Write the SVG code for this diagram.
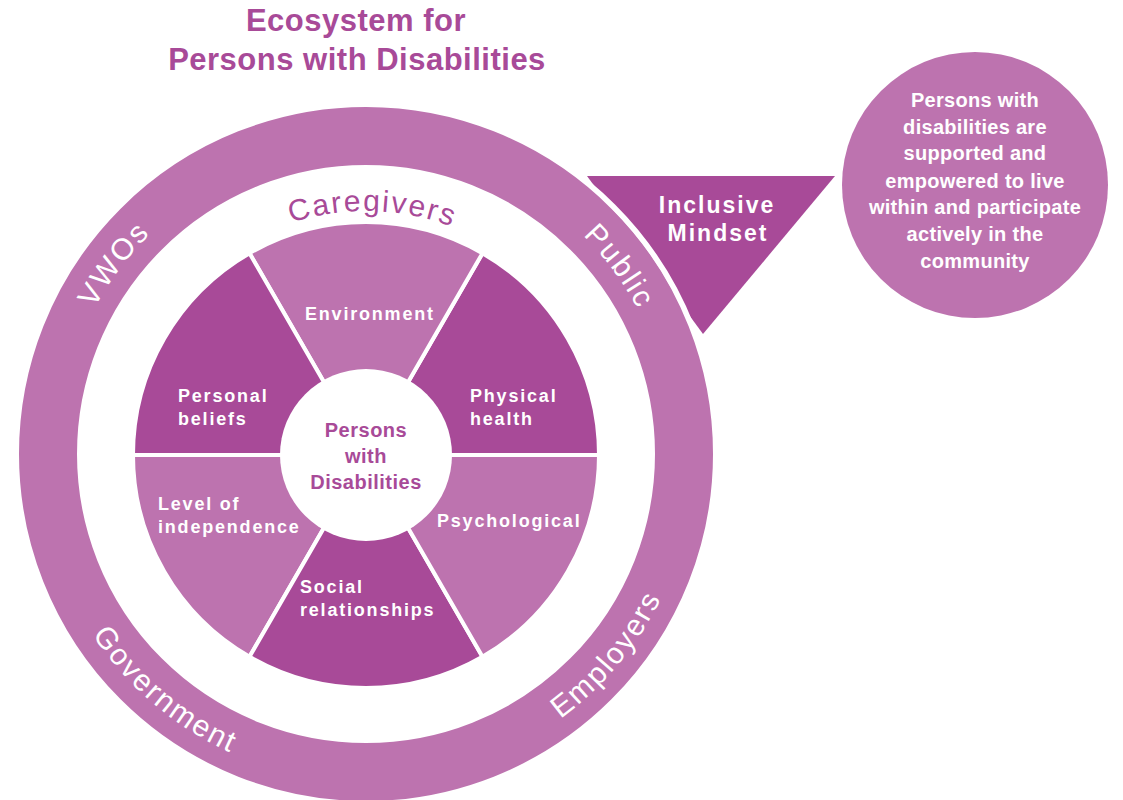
<svg xmlns="http://www.w3.org/2000/svg" width="1123" height="800" viewBox="0 0 1123 800">
<style>
.dark{fill:#A84A98}
.light{fill:#BD73AF}
.sector{stroke:#FFFFFF;stroke-width:4;stroke-linejoin:round}
.title{font-family:"Liberation Sans",Arial,sans-serif;font-weight:bold;font-size:31px;fill:#A84A98;text-anchor:middle;letter-spacing:0.5px}
.lbl{font-family:"Liberation Sans",Arial,sans-serif;font-weight:bold;font-size:18px;fill:#FFFFFF;letter-spacing:1.8px}
.ctr{font-family:"Liberation Sans",Arial,sans-serif;font-weight:bold;font-size:20px;fill:#A84A98;text-anchor:middle;letter-spacing:0.5px}
.ring{font-family:"Liberation Sans",Arial,sans-serif;font-size:30px;fill:#FFFFFF;text-anchor:middle;letter-spacing:2px}
.care{fill:#A84A98}
.tri{font-family:"Liberation Sans",Arial,sans-serif;font-weight:bold;font-size:23px;fill:#FFFFFF;text-anchor:middle;letter-spacing:2px}
.goal{font-family:"Liberation Sans",Arial,sans-serif;font-weight:bold;font-size:20px;fill:#FFFFFF;text-anchor:middle;letter-spacing:0.3px}
</style>
<defs>
<path id="pCare" d="M139.0,365.6 A244,244 0 0 1 597.4,377.6"/>
<path id="pVWO" d="M58.4,470.1 A308,308 0 0 1 296.7,153.9"/>
<path id="pPub" d="M437.9,154.5 A308,308 0 0 1 673.4,472.8"/>
<path id="pGov" d="M38,451.7 A328,328 0 0 0 420.7,777.4"/>
<path id="pEmp" d="M367.1,782 A327,327 0 0 0 688.8,395.9"/>
</defs>

<g id="title">
<text class="title" x="356" y="31">Ecosystem for</text>
<text class="title" x="357" y="70">Persons with Disabilities</text>
</g>

<g id="inclusive-mindset">
<polygon class="dark" points="587,176 835,176 703,334"/>
<text class="tri" x="717" y="213">Inclusive</text>
<text class="tri" x="718" y="241">Mindset</text>
</g>

<g id="outer-ring">
<circle cx="366" cy="454" r="349.5" fill="none" stroke="#FFFFFF" stroke-width="6"/>
<circle cx="366" cy="454" r="318" fill="none" stroke="#BD73AF" stroke-width="58"/>
<text class="ring"><textPath href="#pVWO" startOffset="50%">VWOs</textPath></text>
<text class="ring"><textPath href="#pPub" startOffset="50%">Public</textPath></text>
<text class="ring"><textPath href="#pGov" startOffset="50%">Government</textPath></text>
<text class="ring"><textPath href="#pEmp" startOffset="50%">Employers</textPath></text>
</g>

<g id="caregivers">
<text class="ring care"><textPath href="#pCare" startOffset="50%">Caregivers</textPath></text>
</g>

<g id="physical-health">
<path class="dark sector" d="M366,455 L599,455 A233,233 0 0 0 482.5,253.2 Z"/>
<text class="lbl" x="470" y="402">Physical</text>
<text class="lbl" x="470" y="425">health</text>
</g>
<g id="environment">
<path class="light sector" d="M366,455 L482.5,253.2 A233,233 0 0 0 249.5,253.2 Z"/>
<text class="lbl" x="305" y="320">Environment</text>
</g>
<g id="personal-beliefs">
<path class="dark sector" d="M366,455 L249.5,253.2 A233,233 0 0 0 133,455 Z"/>
<text class="lbl" x="178" y="402">Personal</text>
<text class="lbl" x="178" y="425">beliefs</text>
</g>
<g id="level-of-independence">
<path class="light sector" d="M366,455 L133,455 A233,233 0 0 0 249.5,656.8 Z"/>
<text class="lbl" x="158" y="510">Level of</text>
<text class="lbl" x="158" y="533">independence</text>
</g>
<g id="social-relationships">
<path class="dark sector" d="M366,455 L249.5,656.8 A233,233 0 0 0 482.5,656.8 Z"/>
<text class="lbl" x="300" y="593">Social</text>
<text class="lbl" x="300" y="616">relationships</text>
</g>
<g id="psychological">
<path class="light sector" d="M366,455 L482.5,656.8 A233,233 0 0 0 599,455 Z"/>
<text class="lbl" x="437" y="527">Psychological</text>
</g>

<g id="center">
<circle cx="366" cy="455" r="86" fill="#FFFFFF"/>
<text class="ctr" x="366" y="437">Persons</text>
<text class="ctr" x="366" y="463">with</text>
<text class="ctr" x="366" y="489">Disabilities</text>
</g>

<g id="outcome">
<circle class="light" cx="975" cy="185" r="133"/>
<text class="goal" x="975" y="107">Persons with</text>
<text class="goal" x="975" y="134">disabilities are</text>
<text class="goal" x="975" y="160">supported and</text>
<text class="goal" x="975" y="188">empowered to live</text>
<text class="goal" x="975" y="214">within and participate</text>
<text class="goal" x="975" y="241">actively in the</text>
<text class="goal" x="975" y="268">community</text>
</g>

<g id="connectors"></g>
</svg>
